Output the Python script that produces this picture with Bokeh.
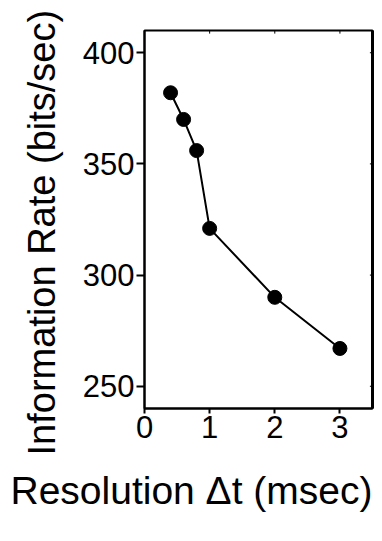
from bokeh.plotting import figure
from bokeh.models import LinearAxis, Title, FixedTicker, Range1d
from bokeh.embed import file_html
from bokeh.resources import INLINE

resolution_ms = [0.4, 0.6, 0.8, 1.0, 2.0, 3.0]
info_rate = [382, 370, 356, 321, 290, 267]
x_ticks = [0, 1, 2, 3]
y_ticks = [250, 300, 350, 400]
x_lo, x_hi = 0, 3.5
y_lo, y_hi = 240, 410

FONT = "Liberation Sans"
TICK_SIZE = "31px"

p = figure(width=382, height=541, output_backend="svg", toolbar_location=None,
           x_range=Range1d(x_lo, x_hi), y_range=Range1d(y_lo, y_hi),
           min_border_left=144, min_border_right=10, min_border_top=30, min_border_bottom=133)
p.grid.visible = False
p.outline_line_color = "black"
p.outline_line_width = 2
p.background_fill_color = "white"
p.border_fill_color = "white"

# tiny inner ticks on the top and right frame edges
p.segment(x0=x_ticks, x1=x_ticks, y0=[y_hi] * len(x_ticks), y1=[y_hi - 1.4] * len(x_ticks),
          line_color="black", line_width=1)
p.segment(x0=[x_hi] * len(y_ticks), x1=[x_hi - 0.04] * len(y_ticks), y0=y_ticks, y1=y_ticks,
          line_color="black", line_width=1)

p.line(resolution_ms, info_rate, line_color="black", line_width=2)
p.scatter(resolution_ms, info_rate, size=14, fill_color="black", line_color="black")

p.xaxis.ticker = FixedTicker(ticks=x_ticks)
p.yaxis.ticker = FixedTicker(ticks=y_ticks)
p.axis.axis_line_color = "black"
p.axis.axis_line_width = 2
p.axis.major_tick_line_width = 2
p.axis.major_tick_in = 0
p.axis.minor_tick_line_color = None
p.axis.major_label_text_font = FONT
p.axis.major_label_text_font_size = TICK_SIZE
p.axis.major_label_text_color = "black"
p.axis.major_label_standoff = 2
p.xaxis.major_tick_out = 5
p.yaxis.major_tick_out = 8

right_ax = LinearAxis(ticker=FixedTicker(ticks=[]), axis_line_width=3,
                      minor_tick_line_color=None, major_tick_line_color=None)
p.add_layout(right_ax, "right")

yt = Title(text="Information Rate (bits/sec)", align="left", offset=-47,
           text_font=FONT, text_font_size="38px", text_font_style="normal",
           text_color="black", standoff=34)
p.add_layout(yt, "left")

xt = Title(text="Resolution \u0394t (msec)", align="left", offset=-134,
           text_font=FONT, text_font_size="39px", text_font_style="normal",
           text_color="black", standoff=52)
p.add_layout(xt, "below")

open("out.html", "w").write(file_html(p, INLINE))
